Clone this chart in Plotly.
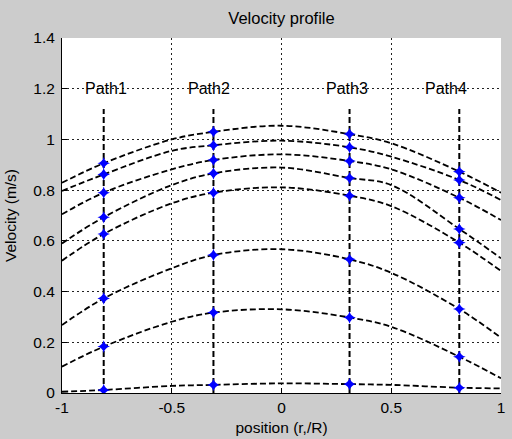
import plotly.graph_objects as go

# x positions where curve values were read
x_pos = [-1.0, -0.81, -0.5, -0.31, 0.0, 0.31, 0.5, 0.81, 1.0]
# velocity profiles (top to bottom)
c1 = [0.829, 0.906, 1.000, 1.030, 1.054, 1.021, 0.985, 0.873, 0.790]
c2 = [0.797, 0.862, 0.955, 0.977, 0.995, 0.969, 0.932, 0.840, 0.761]
c3 = [0.705, 0.790, 0.882, 0.919, 0.941, 0.915, 0.882, 0.770, 0.682]
c4 = [0.590, 0.693, 0.820, 0.866, 0.889, 0.848, 0.820, 0.647, 0.531]
c5 = [0.522, 0.627, 0.748, 0.790, 0.811, 0.778, 0.737, 0.593, 0.481]
c6 = [0.268, 0.373, 0.492, 0.544, 0.567, 0.527, 0.474, 0.331, 0.218]
c7 = [0.104, 0.183, 0.281, 0.317, 0.330, 0.298, 0.261, 0.143, 0.058]
c8 = [0.005, 0.012, 0.028, 0.032, 0.038, 0.035, 0.032, 0.021, 0.018]
curves = [c1, c2, c3, c4, c5, c6, c7, c8]

path_x = [-0.81, -0.31, 0.31, 0.81]
path_idx = [1, 3, 5, 7]
path_names = ["Path1", "Path2", "Path3", "Path4"]
path_label_x = [-0.80, -0.33, 0.30, 0.75]
path_top = 1.12
label_y = 1.2

x_ticks = [-1, -0.5, 0, 0.5, 1]
x_ticklabels = ["-1", "-0.5", "0", "0.5", "1"]
y_ticks = [0, 0.2, 0.4, 0.6, 0.8, 1.0, 1.2, 1.4]
y_ticklabels = ["0", "0.2", "0.4", "0.6", "0.8", "1", "1.2", "1.4"]

fig = go.Figure()

# vertical path lines
for px in path_x:
    fig.add_trace(go.Scatter(x=[px, px], y=[0, path_top], mode="lines",
                             line=dict(color="black", width=2, dash="6px,3px"),
                             hoverinfo="skip", showlegend=False))

# profile curves
for c in curves:
    fig.add_trace(go.Scatter(x=x_pos, y=c, mode="lines", line_shape="spline",
                             line=dict(color="black", width=1.8, dash="6px,3px"),
                             showlegend=False))

# markers at paths
mx, my = [], []
for c in curves:
    for i in path_idx:
        mx.append(x_pos[i])
        my.append(c[i])
fig.add_trace(go.Scatter(x=mx, y=my, mode="markers",
                         marker=dict(symbol="star-diamond", size=9, color="#0000ff",
                                     line=dict(width=0)),
                         showlegend=False))

for name, lx in zip(path_names, path_label_x):
    fig.add_annotation(x=lx, y=label_y, text=name, showarrow=False,
                       font=dict(size=16, color="black"), xanchor="center", yanchor="middle")

font_family = "Liberation Sans, Arial, Helvetica, sans-serif"
fig.update_layout(
    width=512, height=439,
    margin=dict(l=62, r=11, t=38, b=46, autoexpand=False),
    paper_bgcolor="#cccccc",
    plot_bgcolor="white",
    font=dict(family=font_family, size=15.5, color="black"),
    title=dict(text="Velocity profile", x=0.5, xanchor="center", xref="paper",
               y=0.958, yanchor="middle", font=dict(size=16.5)),
)
fig.update_xaxes(range=[-1, 1], tickvals=x_ticks, ticktext=x_ticklabels,
                 showline=True, linecolor="black", linewidth=1, mirror=False,
                 ticks="inside", ticklen=5, tickcolor="black",
                 showgrid=True, gridcolor="#222222", gridwidth=1, griddash="2px,3px",
                 zeroline=False, automargin=False,
                 title=dict(text="position (r,/R)", standoff=7, font=dict(size=15.5)),
                 tickfont=dict(size=15.5))
fig.update_yaxes(range=[0, 1.4], tickvals=y_ticks, ticktext=y_ticklabels,
                 showline=True, linecolor="black", linewidth=1, mirror=False,
                 ticks="inside", ticklen=5, tickcolor="black",
                 showgrid=True, gridcolor="#222222", gridwidth=1, griddash="2px,3px",
                 zeroline=False, ticklabelstandoff=3, automargin=False,
                 title=dict(text="Velocity (m/s)", standoff=12, font=dict(size=15.5)),
                 tickfont=dict(size=15.5))

fig.write_html("out.html")
